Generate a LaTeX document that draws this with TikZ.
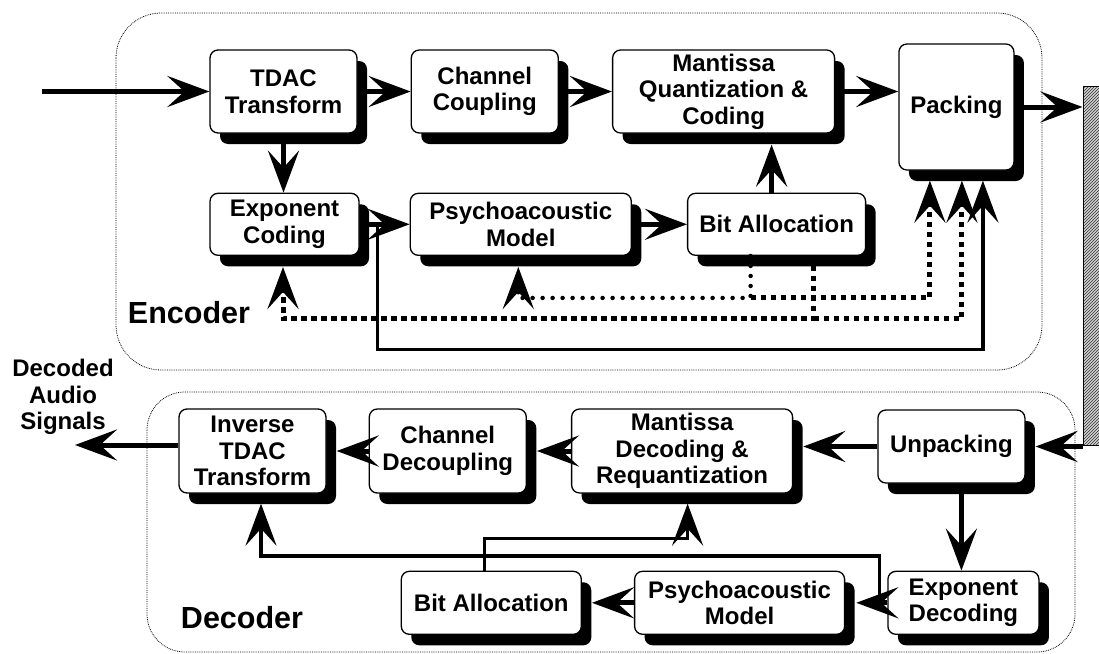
\documentclass[tikz,border=0pt]{standalone}
\usepackage{fontspec}
\setmainfont{Liberation Sans}
\usetikzlibrary{positioning, arrows.meta, shadows, patterns, calc}
\tikzset{
    >={Stealth[length=42pt, width=31pt, inset=17pt]}, % big notched heads
    block/.style={draw, line width=1.3pt, rounded corners=8pt, fill=white, align=center,
        inner sep=1pt, font=\bfseries\fontsize{24}{26.5}\selectfont,
        drop shadow={shadow xshift=10pt, shadow yshift=-11pt, opacity=1, fill=black}}, % boxes with solid shadow
    flow/.style={->, line width=5pt}, % main signal path
    link/.style={->, line width=3.5pt}, % side paths
    sqdash/.style={->, line width=5pt, dash pattern=on 5.5pt off 4.5pt},
    rdots/.style={->, line width=4.5pt, line cap=round, dash pattern=on 0pt off 10pt},
    area/.style={densely dotted, line width=0.8pt, rounded corners=45pt},
    parttitle/.style={font=\bfseries\fontsize{30.5}{34}\selectfont},
    outtext/.style={align=center, font=\bfseries\fontsize{24}{26.5}\selectfont},
    chanbar/.style={draw, line width=1pt, preaction={fill=gray!35}, pattern=north east lines, pattern color=black!80},
}

\begin{document}
\begin{tikzpicture}[x=1pt, y=-1pt]
    \useasboundingbox (0,0) rectangle (1099,653);

    % encoder and decoder areas
    \draw[area] (116,13) rectangle (1042,370);
    \draw[area, rounded corners=38pt] (147,392) rectangle (1075,652);
    \node[parttitle] (enc) at (189,313) {Encoder};
    \node[parttitle] (dec) at (242,618) {Decoder};

    % encoder
    \node[block, minimum width=147pt, minimum height=83pt] (tdac) at (283.5,91.5) {TDAC\\Transform};
    \node[block, minimum width=147pt, minimum height=83pt, right=53pt of tdac] (cc) {Channel\\Coupling};
    \node[block, minimum width=222pt, minimum height=83pt, right=53pt of cc] (mqc) {Mantissa\\Quantization \&\\Coding};
    \node[block, minimum width=115pt, minimum height=126pt, right=63pt of mqc, yshift=-15.5pt] (pack) {Packing};
    \node[block, minimum width=149pt, minimum height=62pt, below=59pt of tdac, xshift=1pt] (ec) {Exponent\\Coding};
    \node[block, minimum width=221pt, minimum height=62pt, right=50pt of ec] (pm) {Psychoacoustic\\Model};
    \node[block, minimum width=178pt, minimum height=62pt, right=55pt of pm] (ba) {Bit Allocation};

    % decoder
    \node[block, minimum width=147pt, minimum height=84pt] (itdac) at (252.5,451) {Inverse\\TDAC\\Transform};
    \node[block, minimum width=157pt, minimum height=84pt, right=42pt of itdac] (cd) {Channel\\Decoupling};
    \node[block, minimum width=221pt, minimum height=84pt, right=44pt of cd] (mdr) {Mantissa\\Decoding \&\\Requantization};
    \node[block, minimum width=147pt, minimum height=73pt, right=84pt of mdr, yshift=4.5pt] (unp) {Unpacking};
    \node[block, minimum width=151pt, minimum height=63pt, below=87pt of unp, xshift=12pt] (ed) {Exponent\\Decoding};
    \node[block, minimum width=210pt, minimum height=63pt, left=42pt of ed] (pmd) {Psychoacoustic\\Model};
    \node[block, minimum width=180pt, minimum height=63pt, left=52pt of pmd] (bad) {Bit Allocation};

    % channel and outside
    \node[chanbar, minimum width=16pt, minimum height=359pt] (chan) at (1091,265.5) {};
    \node[outtext] (sig) at (63,397) {Decoded\\Audio\\Signals};
    \coordinate (src) at (42,91.5);
    \coordinate (sink) at (75,445);

    % encoder connectors
    \draw[flow] (src) -- (tdac);
    \draw[flow] (tdac) -- (cc);
    \draw[flow] (cc) -- (mqc);
    \draw[flow] (mqc.east) -- (mqc.east -| pack.west);
    \draw[flow] (pack.east) -- (pack.east -| chan.west);
    \draw[flow] (tdac.south) -- (tdac.south |- ec.north);
    \draw[flow] (ec) -- (pm);
    \draw[flow] (pm) -- (ba);
    \draw[flow, shorten >=11pt] ([xshift=-5pt]ba.north) -- ([xshift=-5pt]ba.north |- mqc.south);

    \coordinate (split) at ($(ec.east)!0.36!(pm.west)$);
    \draw[link] (split) -- ++(0,125) -| ([xshift=26.5pt,yshift=-10pt]pack.south);

    \coordinate (ba1) at ([xshift=-26pt]ba.south);
    \coordinate (ba2) at ([xshift=37pt]ba.south);
    \draw[rdots] (ba1) -- ++(0,42) -| ([xshift=-2.5pt,yshift=-11pt]pm.south);
    \draw[sqdash] ($(ba1)+(0,42)$) -| ([xshift=-26.5pt,yshift=-10pt]pack.south);
    \draw[sqdash] (ba2) -- ++(0,63) -| ([xshift=-1.5pt,yshift=-11pt]ec.south);
    \draw[sqdash] ($(ba2)+(0,63)$) -| ([xshift=5.5pt,yshift=-10pt]pack.south);

    % decoder connectors
    \draw[flow, shorten >=10pt] (unp.east -| chan.west) -- (unp.east);
    \draw[flow, shorten >=10pt] (unp.west) -- (unp.west -| mdr.east);
    \draw[flow, shorten >=10pt] (mdr) -- (cd);
    \draw[flow, shorten >=10pt] (cd) -- (itdac);
    \draw[flow] ([yshift=6pt]itdac.west) -- (sink);
    \draw[flow] ([xshift=10pt,yshift=-10pt]unp.south) -- ([xshift=10pt]unp.south |- ed.north);
    \draw[flow, shorten >=11pt] (ed) -- (pmd);
    \draw[flow, shorten >=10pt] (pmd) -- (bad);

    \coordinate (split2) at ([xshift=-8pt]ed.west);
    \draw[link] (split2) -- ++(0,-47) -| ([xshift=8.5pt,yshift=-10pt]itdac.south);
    \draw[link] ([xshift=-7pt]bad.north) -- ++(0,-32) -| ([xshift=5.5pt,yshift=-10pt]mdr.south);
\end{tikzpicture}
\end{document}
